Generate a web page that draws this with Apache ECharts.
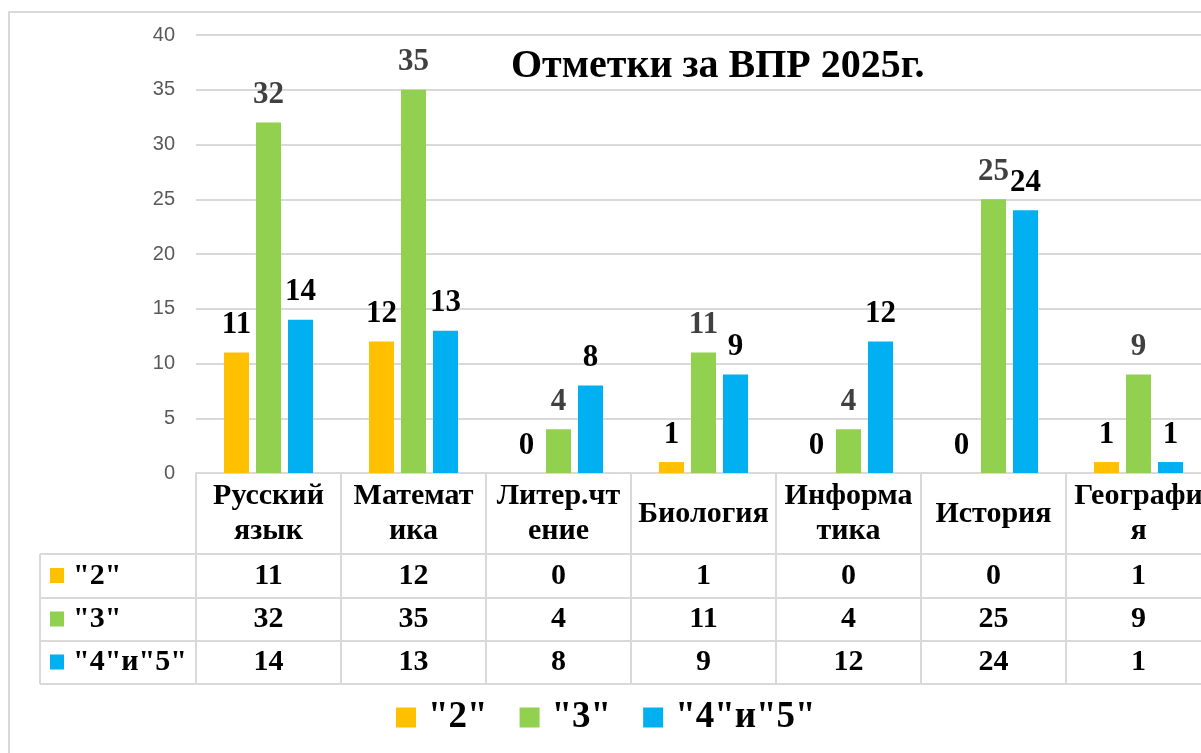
<!DOCTYPE html>
<html>
<head>
<meta charset="utf-8">
<script src="https://cdn.jsdelivr.net/npm/echarts@6/dist/echarts.min.js"></script>
<style>
  html, body { margin: 0; padding: 0; background: #fff; }
  #chart { width: 1201px; height: 753px; }
</style>
</head>
<body>
<div id="chart"></div>
<script>
var categories = ['Русский\nязык', 'Математ\nика', 'Литер.чт\nение', 'Биология', 'Информа\nтика', 'История', 'Географи\nя'];
var grade2 = [11, 12, 0, 1, 0, 0, 1];
var grade3 = [32, 35, 4, 11, 4, 25, 9];
var grade45 = [14, 13, 8, 9, 12, 24, 1];
var seriesNames = ['"2"', '"3"', '"4"и"5"'];
var yTicks = [0, 5, 10, 15, 20, 25, 30, 35, 40];

var colors = ['#FFC000', '#92D050', '#00B0F0'];
var labelColors = ['#000000', '#404040', '#000000'];
var serif = '"Liberation Serif", "Times New Roman", serif';
var lineColor = '#D9D9D9';

var myChart = echarts.init(document.getElementById('chart'));

function barSeries(idx, data) {
    return {
        name: seriesNames[idx],
        type: 'bar',
        barWidth: 25,
        barGap: '28%',
        itemStyle: {color: colors[idx]},
        label: {
            show: true,
            position: 'top',
            distance: 12,
            fontSize: 31,
            fontWeight: 'bold',
            fontFamily: serif,
            color: labelColors[idx]
        },
        data: data
    };
}

var option = {
    animation: false,
    color: colors,
    title: {
        text: 'Отметки за ВПР 2025г.',
        left: 511,
        top: 47,
        padding: 0,
        textStyle: {fontSize: 40, fontWeight: 'bold', fontFamily: serif, color: '#000'}
    },
    legend: {
        data: seriesNames,
        left: 396,
        top: 699,
        padding: 0,
        icon: 'rect',
        itemWidth: 20,
        itemHeight: 20,
        itemGap: 32,
        textStyle: {fontSize: 37, fontWeight: 'bold', fontFamily: serif, color: '#000', padding: [0, 0, 0, 7]}
    },
    // the last column runs past the right edge, as in the original
    grid: {left: 196, width: 1015, top: 35, height: 438, containLabel: false, outerBoundsMode: 'none'},
    xAxis: {
        type: 'category',
        data: categories,
        axisLine: {show: true, lineStyle: {color: lineColor, width: 2}},
        axisTick: {show: true, length: 211, lineStyle: {color: lineColor, width: 2}},
        axisLabel: {show: false}
    },
    yAxis: {
        type: 'value',
        min: yTicks[0],
        max: yTicks[yTicks.length - 1],
        interval: 5,
        axisLine: {show: false},
        axisTick: {show: false},
        axisLabel: {margin: 21, fontSize: 20, color: '#595959', fontFamily: '"Liberation Sans", Arial, sans-serif'},
        splitLine: {lineStyle: {color: lineColor, width: 2}}
    },
    series: [barSeries(0, grade2), barSeries(1, grade3), barSeries(2, grade45)]
};
myChart.setOption(option);

// data table under the axis, placed with the category axis
var rows = [grade2, grade3, grade45];
var rowY = [576, 619.5, 662.5];
var rowLines = [554, 598, 641, 684];
var els = [];
els.push({
    type: 'rect', z: -1, silent: true,
    shape: {x: 9, y: 12, width: 1300, height: 900},
    style: {fill: 'none', stroke: lineColor, lineWidth: 2}
});
rowLines.forEach(function (y) {
    els.push({type: 'line', silent: true, shape: {x1: 40, y1: y, x2: 1220, y2: y}, style: {stroke: lineColor, lineWidth: 2}});
});
els.push({type: 'line', silent: true, shape: {x1: 40, y1: 554, x2: 40, y2: 684}, style: {stroke: lineColor, lineWidth: 2}});

categories.forEach(function (c, i) {
    var x = myChart.convertToPixel({xAxisIndex: 0}, c);
    els.push({
        type: 'text', silent: true, x: x, y: 514,
        style: {text: c, font: 'bold 30px ' + serif, fill: '#000', textAlign: 'center', textVerticalAlign: 'middle', lineHeight: 35}
    });
    rows.forEach(function (r, k) {
        els.push({
            type: 'text', silent: true, x: x, y: rowY[k],
            style: {text: String(r[i]), font: 'bold 30px ' + serif, fill: '#000', textAlign: 'center', textVerticalAlign: 'middle'}
        });
    });
});
seriesNames.forEach(function (n, k) {
    els.push({type: 'rect', silent: true, shape: {x: 50, y: rowY[k] - 8, width: 14, height: 15}, style: {fill: colors[k]}});
    els.push({
        type: 'text', silent: true, x: 73, y: rowY[k],
        style: {text: n, font: 'bold 30px ' + serif, fill: '#000', textAlign: 'left', textVerticalAlign: 'middle'}
    });
});
myChart.setOption({graphic: {elements: els}});
</script>
</body>
</html>
